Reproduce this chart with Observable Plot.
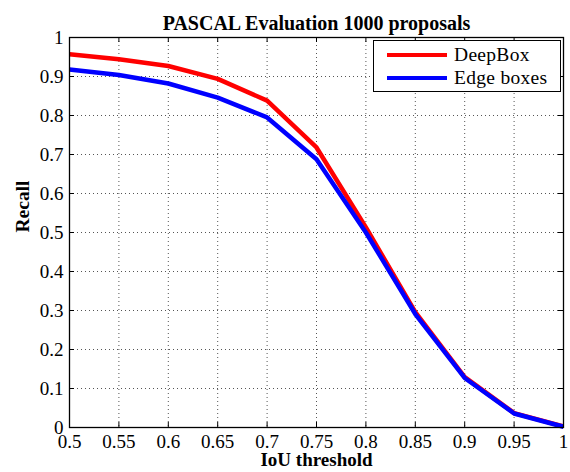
<!DOCTYPE html>
<html><head><meta charset="utf-8">
<script src="https://cdn.jsdelivr.net/npm/d3@7"></script>
<script src="https://cdn.jsdelivr.net/npm/@observablehq/plot@0.6"></script>
<style>
body{margin:0;background:#fff;}
#wrap{position:relative;width:570px;height:472px;}
#wrap svg text{font-family:'Liberation Serif','Times New Roman',serif;}
#legend{position:absolute;left:373px;top:40px;width:186px;height:50px;border:1.3px solid #000;background:#fff;font-family:'Liberation Serif','Times New Roman',serif;font-size:19.5px;color:#000;letter-spacing:0.3px;}
.row{position:absolute;left:0;height:22px;display:flex;align-items:center;}
.sw{width:60px;height:4.5px;margin-left:13px;margin-right:7px;}
</style></head><body><div id="wrap"></div>
<script>
const iou = [0.5, 0.55, 0.6, 0.65, 0.7, 0.75, 0.8, 0.85, 0.9, 0.95, 1];
const deepBox = [0.957, 0.944, 0.927, 0.894, 0.838, 0.718, 0.513, 0.296, 0.129, 0.037, 0.003];
const edgeBoxes = [0.918, 0.904, 0.882, 0.846, 0.795, 0.688, 0.500, 0.291, 0.127, 0.036, 0.002];
const seriesNames = ["DeepBox", "Edge boxes"];
const seriesColors = ["#ff0000", "#0000ff"];
const xTicks = [0.5, 0.55, 0.6, 0.65, 0.7, 0.75, 0.8, 0.85, 0.9, 0.95, 1];
const xTickLabels = ["0.5", "0.55", "0.6", "0.65", "0.7", "0.75", "0.8", "0.85", "0.9", "0.95", "1"];
const yTicks = [0, 0.1, 0.2, 0.3, 0.4, 0.5, 0.6, 0.7, 0.8, 0.9, 1];
const yTickLabels = ["0", "0.1", "0.2", "0.3", "0.4", "0.5", "0.6", "0.7", "0.8", "0.9", "1"];
const title = "PASCAL Evaluation 1000 proposals";
const xLabel = "IoU threshold";
const yLabel = "Recall";

const rows = [
  ...iou.map((x, i) => ({x, y: deepBox[i], s: seriesNames[0]})),
  ...iou.map((x, i) => ({x, y: edgeBoxes[i], s: seriesNames[1]}))
];
const W = 570, H = 472, mt = 37, mr = 7, mb = 45, ml = 69;
const ph = H - mt - mb, pw = W - ml - mr, tk = 5;
const font = "'Liberation Serif','Times New Roman',serif";

const chart = Plot.plot({
  width: W, height: H, marginTop: mt, marginRight: mr, marginBottom: mb, marginLeft: ml,
  style: {fontFamily: font, fontSize: "19px", background: "#fff", color: "#000"},
  x: {domain: [0.5, 1]},
  y: {domain: [0, 1]},
  color: {domain: seriesNames, range: seriesColors},
  marks: [
    Plot.gridX(xTicks.slice(1, -1), {stroke: "#555", strokeOpacity: 1, strokeDasharray: "1,3"}),
    Plot.gridY(yTicks.slice(1, -1), {stroke: "#555", strokeOpacity: 1, strokeDasharray: "1,3"}),
    Plot.line(rows, {x: "x", y: "y", stroke: "s", z: "s", strokeWidth: 4.5, strokeLinejoin: "miter", strokeLinecap: "butt"}),
    Plot.tickX(xTicks, {x: d => d, insetTop: ph - tk, stroke: "#000"}),
    Plot.tickX(xTicks, {x: d => d, insetBottom: ph - tk, stroke: "#000"}),
    Plot.tickY(yTicks, {y: d => d, insetRight: pw - tk, stroke: "#000"}),
    Plot.tickY(yTicks, {y: d => d, insetLeft: pw - tk, stroke: "#000"}),
    Plot.frame({stroke: "#000", strokeWidth: 1.3}),
    Plot.axisX(xTicks, {tickSize: 0, tickPadding: 7, tickFormat: d => xTickLabels[xTicks.indexOf(d)], label: null, fontSize: 19}),
    Plot.axisY(yTicks, {tickSize: 0, tickPadding: 6, tickFormat: d => yTickLabels[yTicks.indexOf(d)], label: null, fontSize: 19}),
    Plot.text([title], {frameAnchor: "top", dy: -22, fontWeight: "bold", fontSize: 20, fontFamily: font}),
    Plot.text([xLabel], {frameAnchor: "bottom", dy: 38, fontWeight: "bold", fontSize: 19, fontFamily: font}),
    Plot.text([yLabel], {frameAnchor: "left", dx: -47, dy: 0, rotate: -90, fontWeight: "bold", fontSize: 19.5, fontFamily: font})
  ]
});
const wrap = document.getElementById("wrap");
wrap.appendChild(chart);
const legend = document.createElement("div");
legend.id = "legend";
seriesNames.forEach((n, i) => {
  const r = document.createElement("div");
  r.className = "row";
  r.style.top = (3 + i * 23) + "px";
  const sw = document.createElement("div");
  sw.className = "sw";
  sw.style.background = seriesColors[i];
  const t = document.createElement("span");
  t.textContent = n;
  r.appendChild(sw); r.appendChild(t);
  legend.appendChild(r);
});
wrap.appendChild(legend);
</script>
</body></html>
